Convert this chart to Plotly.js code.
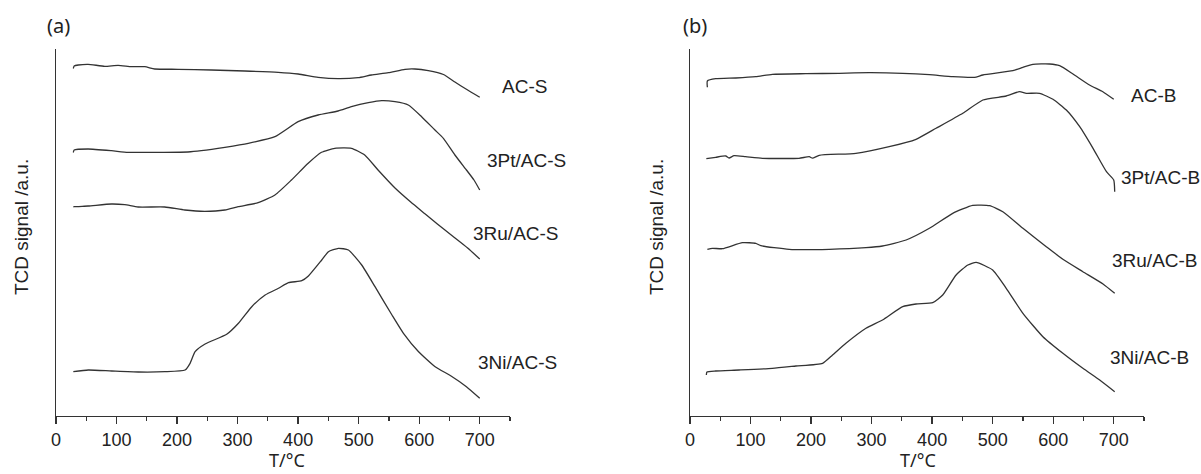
<!DOCTYPE html>
<html>
<head>
<meta charset="utf-8">
<script src="https://cdn.plot.ly/plotly-3.0.1.min.js"></script>
<style>html,body{margin:0;padding:0;background:#fff;}#chart{width:1201px;height:474px;}</style>
</head>
<body>
<div id="chart"></div>
<script>
// ---- Data (temperature in °C, TCD signal in a.u., curves offset as in the figure) ----
const acS_T = [28.6,30,36.8,53,80.6,102.6,124.7,146.7,163,201.6,256.7,311.8,366.9,400,433,466,499,521,549,576.6,593,615,640,659,678,700];
const acS_S = [347.5,350,351,351.7,349.7,350.7,349.3,349.3,347,346.7,346,345,343.7,342,338.7,337.3,338.3,341,343.3,346.7,347,345.3,341.5,334,326.7,318.7];

const ptS_T = [28.6,30,53,91.6,119,174,218,240,279,317.6,361.7,400,433,466,488,516,538,560,582,604,626,640,659,678,690.5,700];
const ptS_S = [263.5,266,267,265.3,263.7,263.7,264,265.3,268.7,272.7,279.3,294.3,301,305,309.3,313.3,315.3,314.3,311,299.3,286,277.7,261,246,236,226];

const ruS_T = [28.6,30,53,91.6,113.6,135.6,179.6,212.7,245.8,279,301,334,361.7,389,416.6,438.6,460.6,488,510,532,560,586,610,630,655,680,700];
const ruS_S = [209,209.3,210,212,211.3,209,209,206,204.7,206,209.3,213.3,221,236,252.7,263.7,267.7,267.7,261,246,228,214,202,192,180,168,157];

const niS_T = [28.6,53.4,92,136,180,213.2,221.5,229.8,246.3,282,301.4,323.4,345.5,367.5,384,406,417,439,450,466.6,483,505,527,555,574,599,626.4,652.6,678,700];
const niS_S = [44.3,46,45,44,44.3,46,52.7,64.3,72,81.7,92.7,109.3,121,127.7,133.3,135.3,140,156,164.3,167.7,166,151,129.3,101,82.7,64.3,49.3,40,29.3,17.7];

const acB_T = [28.7,28.7,42.5,75.6,108.7,136,191.4,246.6,296,351.4,395.5,434,470,483.8,533.4,550,566.5,594,610.6,632.7,660,682,700];
const acB_S = [328.7,335,337.3,338,339.3,341.7,342.3,342.7,343.3,342.7,341.3,339.3,338.7,341,345.3,348.7,351.7,352,350.3,342,331,324.3,316.7];

const ptB_T = [27,42.5,59,64.5,72.8,92,119.7,180,197,202.4,213.5,274,329,373.4,406.5,450.7,483.8,522.4,544.4,555.5,577.5,599.6,621.7,643.8,665.8,688,700,701.6];
const ptB_S = [257.3,258.7,260,258,260.3,259.3,257.7,257.7,259.3,257.8,260.7,262.7,269.3,276.7,287.7,302.7,316,320,324.3,322.7,322.7,316.7,306,289.3,267.7,244.3,236,224.3];

const ruB_T = [28.7,37,53.5,86.6,108.7,117,163.8,230,290.7,318,357,395.5,434,467,494.8,516.8,550,588.6,616,649,682.3,701.6];
const ruB_S = [166.7,167.7,167.3,173.3,172.7,170.3,166.7,166.7,168.3,170,176,187.7,202.7,210.7,210.3,204.3,187.7,169.3,156.7,144.3,132,122.7];

const niB_T = [27,28,42.5,81,136,175,219,235.5,257.6,290.7,318,351.4,373.4,401,417.5,439.6,459,472.7,500,522.4,550,583,616,649,676.8,701.6];
const niB_S = [41,44,45,46,47.7,50,52.7,61,72.7,87.7,96,109.3,112,113.3,121,141,151,153.7,146,127.7,102.7,79.3,62.7,47.7,36,24.3];

const xTickVals = [0,100,200,300,400,500,600,700];
const xTickText = ['0','100','200','300','400','500','600','700'];

const seriesA = [
  {name:'AC-S', x:acS_T, y:acS_S},
  {name:'3Pt/AC-S', x:ptS_T, y:ptS_S},
  {name:'3Ru/AC-S', x:ruS_T, y:ruS_S},
  {name:'3Ni/AC-S', x:niS_T, y:niS_S}
];
const seriesB = [
  {name:'AC-B', x:acB_T, y:acB_S},
  {name:'3Pt/AC-B', x:ptB_T, y:ptB_S},
  {name:'3Ru/AC-B', x:ruB_T, y:ruB_S},
  {name:'3Ni/AC-B', x:niB_T, y:niB_S}
];

const W = 1201, H = 474;
const px = v => v / W;
const py = v => 1 - v / H;
const lineColor = '#333333';

const traces = [];
seriesA.forEach(s => traces.push({x:s.x, y:s.y, xaxis:'x', yaxis:'y', type:'scatter', mode:'lines', name:s.name,
  line:{color:lineColor, width:1.3, shape:'spline', smoothing:0.5}, hoverinfo:'skip'}));
seriesB.forEach(s => traces.push({x:s.x, y:s.y, xaxis:'x2', yaxis:'y2', type:'scatter', mode:'lines', name:s.name,
  line:{color:lineColor, width:1.3, shape:'spline', smoothing:0.5}, hoverinfo:'skip'}));

const xBase = {
  range:[0,750], tickmode:'array', tickvals:xTickVals, ticktext:xTickText,
  ticks:'outside', ticklen:7, tickwidth:1.3, tickcolor:lineColor,
  minor:{dtick:50, tick0:0, ticks:'outside', ticklen:4, tickwidth:1.2, tickcolor:lineColor, showgrid:false},
  showline:true, linecolor:lineColor, linewidth:1.3, showgrid:false, zeroline:false,
  tickfont:{family:'Liberation Sans, Arial, sans-serif', size:18, color:'#222'}, fixedrange:true
};
const yBase = {
  range:[0,367], showline:true, linecolor:lineColor, linewidth:1.3, showgrid:false, zeroline:false,
  showticklabels:false, ticks:'', fixedrange:true
};
const yDom = [(H-416)/H, (H-49)/H];

const labFont = {family:'Liberation Sans, Arial, sans-serif', size:19, color:'#222'};
const titFont = {family:'Noto Sans, Open Sans, sans-serif', size:18, color:'#222'};
const ann = [];
function addText(text, x, y, font, angle, yanchor){
  ann.push({text:text, x:px(x), y:py(y), xref:'paper', yref:'paper', xanchor:'center', yanchor:yanchor||'middle',
    showarrow:false, font:font, textangle:angle||0});
}
// curve labels
const labA = [[524,87],[526,160.5],[516,233],[517,362]];
const labB = [[1153,95.5],[1160,177.5],[1155,260.5],[1149,357.5]];
seriesA.forEach((s,i)=>addText(s.name, labA[i][0], labA[i][1], labFont));
seriesB.forEach((s,i)=>addText(s.name, labB[i][0], labB[i][1], labFont));
// panel labels
addText('(a)', 58, 25, {family:'Noto Sans, Open Sans, sans-serif', size:20, color:'#222'});
addText('(b)', 695, 25, {family:'Noto Sans, Open Sans, sans-serif', size:20, color:'#222'});
// axis titles
addText('T/°C', 287, 474, titFont, 0, 'bottom');
addText('T/°C', 918, 474, titFont, 0, 'bottom');
addText('TCD signal /a.u.', 21, 227, {family:'Liberation Sans, Arial, sans-serif', size:19, color:'#222'}, -90);
addText('TCD signal /a.u.', 656, 227, {family:'Liberation Sans, Arial, sans-serif', size:19, color:'#222'}, -90);

const layout = {
  width:W, height:H, margin:{l:0,r:0,t:0,b:0}, paper_bgcolor:'#fff', plot_bgcolor:'rgba(0,0,0,0)',
  showlegend:false,
  xaxis:Object.assign({}, xBase, {domain:[px(56), px(510)], anchor:'y'}),
  yaxis:Object.assign({}, yBase, {domain:yDom, anchor:'x'}),
  xaxis2:Object.assign({}, xBase, {domain:[px(690), px(1144)], anchor:'y2'}),
  yaxis2:Object.assign({}, yBase, {domain:yDom, anchor:'x2'}),
  annotations:ann
};
Plotly.newPlot('chart', traces, layout, {staticPlot:true, displayModeBar:false});
</script>
</body>
</html>
